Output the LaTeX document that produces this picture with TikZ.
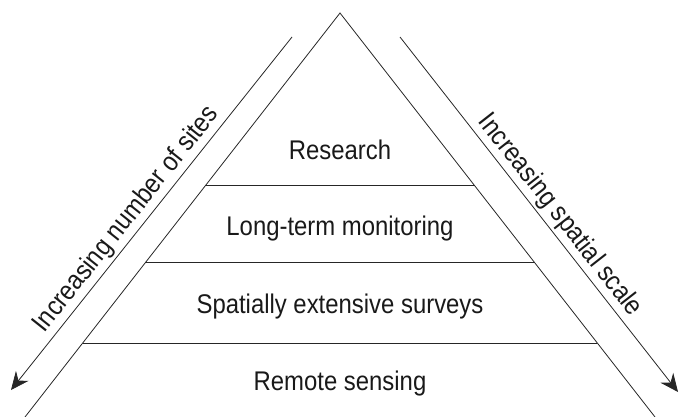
\documentclass[tikz,border=0pt]{standalone}
\usepackage{fontspec}
\setmainfont{Liberation Sans}[FakeStretch=0.885]
\usepackage{tikz}
\usetikzlibrary{arrows.meta, positioning, calc}

\tikzset{
  edge/.style={line width=0.8pt, black!85},
  layer/.style={anchor=base, font=\fontsize{27}{30}\selectfont, text=black!90},
  trend/.style={line width=0.8pt, black!85, -{Stealth[length=18pt, width=16pt, inset=6pt]}},
  trendlabel/.style={sloped, above, inner sep=3pt, font=\fontsize{27}{30}\selectfont, text=black!90}
}

\begin{document}
\begin{tikzpicture}[x=1pt, y=-1pt]
  \useasboundingbox (0,0) rectangle (687,417);

  % pyramid
  \coordinate (apex) at (340,13);
  \coordinate (bl) at (25,417);
  \coordinate (br) at (655,417);
  \draw[edge] (bl) -- (apex) -- (br);

  % layer borders
  \foreach \t [count=\i] in {0.4257, 0.6163, 0.8168} {
    \coordinate (l\i) at ($(apex)!\t!(bl)$);
    \coordinate (r\i) at ($(apex)!\t!(br)$);
    \draw[edge] (l\i) -- (r\i);
  }

  % layer texts
  \node[layer] (research) at (340,159) {Research};
  \node[layer] (monitoring) at (340,235) {Long-term monitoring};
  \node[layer] (surveys) at (340,313) {Spatially extensive surveys};
  \node[layer] (sensing) at (340,390) {Remote sensing};

  % trend arrows
  \coordinate (sitestop) at (292,37);
  \coordinate (sitestip) at (11,390);
  \coordinate (scaletop) at (400,37);
  \coordinate (scaletip) at (678,392);
  \draw[trend] (sitestop) -- (sitestip);
  \draw[trend] (scaletop) -- (scaletip);
  \path (sitestip) -- node[trendlabel, pos=0.455] (sites) {Increasing number of sites} (sitestop);
  \path (scaletop) -- node[trendlabel, pos=0.53] (scale) {Increasing spatial scale} (scaletip);
\end{tikzpicture}
\end{document}
